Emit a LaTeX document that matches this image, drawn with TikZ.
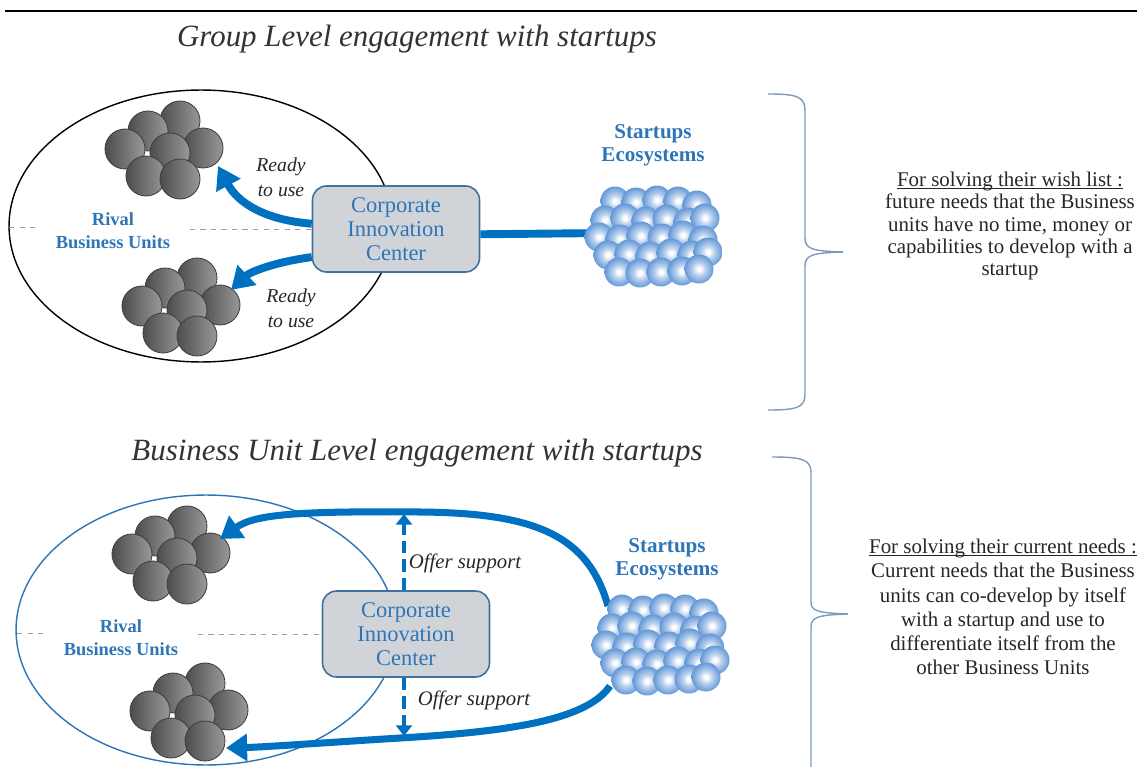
\documentclass[tikz,border=0pt]{standalone}
\usepackage{fontspec}
\setmainfont{Liberation Serif}
\usetikzlibrary{calc, arrows.meta}

\definecolor{bubblecol}{RGB}{100,152,215}
\pgfdeclareradialshading{bubble}{\pgfpoint{0bp}{0bp}}{color(0bp)=(white); color(3bp)=(white); color(11bp)=(bubblecol!45); color(20bp)=(bubblecol!80); color(25bp)=(bubblecol); color(50bp)=(bubblecol)}

\newcommand{\headline}[1]{\setbox0\hbox{#1}\rlap{\rule[-1.6pt]{\wd0}{0.5pt}}\box0}

\begin{document}
\begin{tikzpicture}[x=0.02cm, y=-0.02cm]

\def \pix {0.02cm}
\def \ballr {0.4cm}
\def \bubr {0.29cm}

\definecolor{flow}{RGB}{0,112,192}
\definecolor{bluetext}{RGB}{46,117,182}
\definecolor{boxfill}{RGB}{208,212,217}
\definecolor{boxline}{RGB}{65,113,156}
\definecolor{bracecol}{RGB}{125,155,185}
\definecolor{leadcol}{RGB}{140,160,185}

\tikzstyle{heading}=[text=black!80, font=\itshape\fontsize{17.6}{20}\selectfont]
\tikzstyle{cic}=[draw=boxline, line width=0.9pt, fill=boxfill, rounded corners=8pt, minimum width=167*\pix, minimum height=86*\pix, align=center, text=bluetext, font=\fontsize{12.8}{13.6}\selectfont]
\tikzstyle{rival}=[text=bluetext, align=center, font=\bfseries\fontsize{10.5}{13}\selectfont]
\tikzstyle{eco}=[text=bluetext, align=center, font=\bfseries\fontsize{12}{13}\selectfont]
\tikzstyle{ready}=[text=black!85, align=center, font=\itshape\fontsize{11.2}{14.2}\selectfont]
\tikzstyle{offer}=[text=black!85, font=\itshape\fontsize{11.8}{14}\selectfont]
\tikzstyle{note}=[text=black!85, align=center, font=\fontsize{11.9}{12.7}\selectfont]
\tikzstyle{bigarrow}=[draw=flow, line width=4.5pt, -{Triangle[length=12.5pt, width=15pt]}]
\tikzstyle{bigline}=[draw=flow, line width=4.5pt]
\tikzstyle{bigloop}=[draw=flow, line width=4pt, -{Triangle[length=12pt, width=15pt]}]
\tikzstyle{dasharrow}=[draw=flow, line width=2.8pt, dash pattern=on 7pt off 3.5pt, -{Triangle[length=6pt, width=9pt]}]
\tikzstyle{unitball}=[draw=black!75, line width=0.5pt, left color=black!70, right color=black!40]
\tikzstyle{leader}=[draw=leadcol, line width=0.5pt, dashed]
\tikzstyle{bracket}=[draw=bracecol, line width=0.8pt]

\useasboundingbox (0,0) rectangle (1137,767);

% Titles
\draw [line width=0.8pt] (5,11) -- (1137,11);
\node (title1) at (417,39) [heading] {Group Level engagement with startups};
\node (title2) at (417,453) [heading] {Business Unit Level engagement with startups};

% Group level: business units
\draw [line width=0.8pt] (201,226) ellipse [x radius=3.84cm, y radius=2.72cm];
\coordinate (grp1) at (170,153);
\coordinate (grp2) at (187,310);
\foreach \c in {grp1, grp2} {
  \foreach \dx/\dy in {10/-32, -22/-22, -45/-4, 33/-5, 0/0, -24/23, 10/26} {
    \draw [unitball] ($(\c)+(\dx,\dy)$) circle [radius=\ballr];
  }
}
\node (rival1) at (113,231) [rival] {Rival\\Business Units};
\node (cic1) at (396,229) [cic] {Corporate\\Innovation\\Center};
\draw [leader] (9,227) -- (36,227);
\draw [leader] ([xshift=-122*\pix]cic1.west) -- (cic1.west);

% Group level: startups
\coordinate (se1) at (653,237);
\coordinate (se1w) at (607,233);
\draw [bigline] ([yshift=-3pt]cic1.east) -- (se1w);
\foreach \c in {se1} {
  \foreach \dx/\dy in {-38/-36, -17/-35, 4/-37, 25/-36, 44/-32,
                       -48/-17, -28/-19, -7/-16, 14/-18, 35/-15, 52/-19,
                       -54/0, -33/2, -12/-1, 9/1, 30/-2, 50/3,
                       -45/18, -24/17, -3/19, 18/16, 39/18, 55/15,
                       -34/35, -13/36, 8/35, 29/34, 46/32} {
    \shade [shading=bubble] ($(\c)+(\dx,\dy)$) circle [radius=\bubr];
  }
}
\node (eco1) at (653,145) [eco] {Startups\\Ecosystems};

% Ready to use
\coordinate (tipA) at (218,166);
\coordinate (tipB) at (231,290);
\draw [bigarrow] ([yshift=3pt]cic1.west) .. controls (265,220) and (238,203) .. (tipA);
\draw [bigarrow] ([yshift=-16pt]cic1.west) .. controls (275,262) and (250,272) .. (tipB);
\node (ready1) at (281,177) [ready] {Ready\\to use};
\node (ready2) at (291,308) [ready] {Ready\\to use};

% Business unit level
\draw [draw=bluetext, line width=0.8pt] (206,630) ellipse [x radius=3.8cm, y radius=2.7cm];
\coordinate (bul1) at (177,558);
\coordinate (bul2) at (195,715);
\foreach \c in {bul1, bul2} {
  \foreach \dx/\dy in {10/-32, -22/-22, -45/-4, 33/-5, 0/0, -24/23, 10/26} {
    \draw [unitball] ($(\c)+(\dx,\dy)$) circle [radius=\ballr];
  }
}
\node (rival2) at (121,638) [rival] {Rival\\Business Units};
\node (cic2) at (406,634) [cic] {Corporate\\Innovation\\Center};
\draw [leader] (17,633) -- (45,633);
\draw [leader] ([xshift=-124*\pix]cic2.west) -- (cic2.west);

% Startups of the business units
\coordinate (se2) at (660,645);
\coordinate (se2n) at (608,606);
\coordinate (se2s) at (610,686);
\coordinate (tipC) at (220,539);
\coordinate (tipD) at (226,748);
\draw [bigloop] (se2n) .. controls (588,535) and (535,513) .. (420,512) .. controls (300,511) and (255,514) .. (tipC);
\draw [bigloop] (se2s) .. controls (588,718) and (520,731) .. (400,738) .. controls (320,743) and (265,747) .. (tipD);
\foreach \c in {se2} {
  \foreach \dx/\dy in {-38/-36, -17/-35, 4/-37, 25/-36, 44/-32,
                       -48/-17, -28/-19, -7/-16, 14/-18, 35/-15, 52/-19,
                       -54/0, -33/2, -12/-1, 9/1, 30/-2, 50/3,
                       -45/18, -24/17, -3/19, 18/16, 39/18, 55/15,
                       -34/35, -13/36, 8/35, 29/34, 46/32} {
    \shade [shading=bubble] ($(\c)+(\dx,\dy)$) circle [radius=\bubr];
  }
}
\node (eco2) at (667,559) [eco] {Startups\\Ecosystems};

% Offer support
\coordinate (supUp) at (404,514);
\coordinate (supDn) at (404,736);
\draw [dasharrow] (cic2.north -| supUp) -- (supUp);
\draw [dasharrow] (cic2.south -| supDn) -- (supDn);
\node (offer1) at (465,563) [offer] {Offer support};
\node (offer2) at (474,700) [offer] {Offer support};

% Braces and notes
\draw [bracket] (768,94) .. controls (795,94) and (805,96) .. (805,110) -- (805,238) .. controls (805,249) and (812,251) .. (843,252);
\draw [bracket] (843,252) .. controls (812,253) and (805,255) .. (805,266) -- (805,395) .. controls (805,408) and (795,410) .. (768,410);
\draw [bracket] (772,457) .. controls (800,457) and (811,459) .. (811,472) -- (811,602) .. controls (811,611) and (818,613) .. (848,614);
\draw [bracket] (848,614) .. controls (818,615) and (811,617) .. (811,627) -- (811,775);

\node (wish) at (1010,226) [note] {\headline{For solving their wish list :}\\future needs that the Business\\units have no time, money or\\capabilities to develop with a\\startup};
\node (current) at (1003,607) [note, font=\fontsize{11.9}{13.8}\selectfont] {\headline{For solving their current needs :}\\Current needs that the Business\\units can co-develop by itself\\with a startup and use to\\differentiate itself from the\\other Business Units};

\end{tikzpicture}
\end{document}
